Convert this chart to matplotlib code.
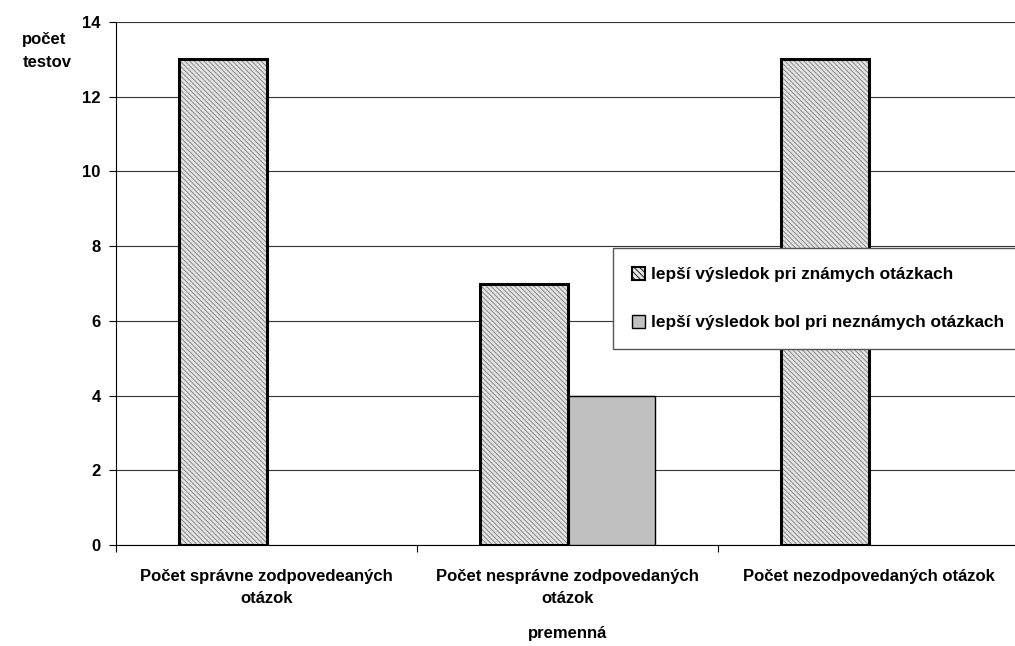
import matplotlib.pyplot as plt
import numpy as np
from matplotlib.patches import Patch

plt.rcParams['font.family'] = ['Liberation Sans', 'DejaVu Sans']
plt.rcParams['hatch.linewidth'] = 0.6
plt.rcParams['hatch.color'] = '#666666'

categories = ['Počet správne zodpovedeaných\notázok',
              'Počet nesprávne zodpovedaných\notázok',
              'Počet nezodpovedaných otázok']
known_better = [13, 7, 13]
unknown_better = [0, 4, 0]
series_names = ['lepší výsledok pri známych otázkach',
                'lepší výsledok bol pri neznámych otázkach']

fig = plt.figure(figsize=(10.15, 6.46), dpi=100, facecolor='white')
ax = fig.add_axes([0.1143, 0.1563, 0.8897, 0.8096])

x = np.arange(len(categories))
w = 0.29
ax.grid(axis='y', color='#333333', linewidth=0.8, zorder=0)
# hatched fill in grey, then the black outline on top
ax.bar(x - w / 2, known_better, w, facecolor='#e4e4e4', hatch='\\\\\\\\\\\\\\',
       edgecolor='#777777', linewidth=0, zorder=3)
ax.bar(x - w / 2, known_better, w, facecolor='none', edgecolor='black',
       linewidth=2.2, zorder=4)
bars2 = ax.bar(x + w / 2, unknown_better, w, facecolor='#c0c0c0',
               edgecolor='black', linewidth=1, zorder=3)
for p in bars2:
    if p.get_height() == 0:
        p.set_visible(False)

ax.set_xlim(-0.5, 2.5)
ax.set_ylim(0, 14)
ax.set_yticks(range(0, 15, 2))
ax.set_xticks(x)
ax.set_xticklabels(categories, fontsize=12, fontweight='bold', linespacing=1.6)
ax.set_xticks([-0.5, 0.5, 1.5], minor=True)
ax.tick_params(axis='x', which='major', length=0, pad=17)
ax.tick_params(axis='x', which='minor', length=5, width=0.8)
ax.tick_params(axis='y', length=5, width=0.8, labelsize=12, pad=6)
for t in ax.get_yticklabels():
    t.set_fontweight('bold')

for s in ['top', 'right']:
    ax.spines[s].set_visible(False)
ax.spines['left'].set_linewidth(0.8)
ax.spines['bottom'].set_linewidth(0.8)

fig.text(0.022, 0.95, 'počet\ntestov', fontsize=12, fontweight='bold',
         va='top', ha='left', linespacing=1.6)
fig.text(0.559, 0.012, 'premenná', fontsize=12, fontweight='bold', ha='center')

# legend box runs off the right edge like in the original
handles = [Patch(facecolor='#e4e4e4', hatch='\\\\\\\\\\\\', edgecolor='black', linewidth=1.5),
           Patch(facecolor='#c0c0c0', edgecolor='black', linewidth=1)]
leg = fig.legend(handles, series_names, loc='upper left',
                 bbox_to_anchor=(0.604, 0.451, 0.41, 0.165), mode='expand',
                 fancybox=False, framealpha=1, edgecolor='#555555',
                 prop={'weight': 'bold', 'size': 12.4}, handlelength=0.75,
                 handleheight=0.75, handletextpad=0.35, labelspacing=1.9,
                 borderpad=1.1, borderaxespad=0)
leg.get_frame().set_linewidth(1.0)

fig.savefig('out.png', dpi=100)
